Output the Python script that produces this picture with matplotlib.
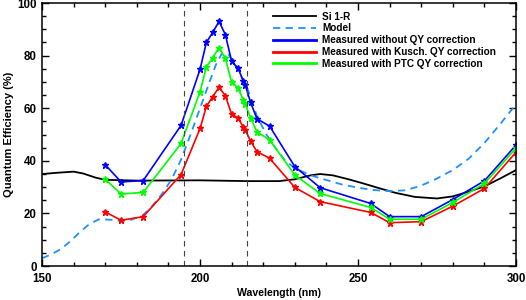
import matplotlib
matplotlib.use("Agg")
import matplotlib.pyplot as plt
from matplotlib.lines import Line2D
from matplotlib.ticker import MultipleLocator

plt.rcParams["font.family"] = ["Liberation Sans", "DejaVu Sans"]

# measured wavelengths (nm)
wl = [170, 175, 182, 194, 200, 202, 204, 206, 208, 210, 212, 213.7, 214.3,
      216, 218, 222, 230, 238, 254, 260, 270, 280, 290, 300]

qe_raw = [38.5, 32.0, 32.5, 53.5, 74.8, 85.0, 88.8, 93.0, 88.0, 77.8, 75.3, 70.3, 68.8,
          62.2, 56.0, 53.2, 37.8, 29.8, 23.8, 18.8, 18.8, 25.3, 32.4, 46.0]
qe_kusch = [20.6, 17.4, 18.8, 34.8, 52.3, 60.7, 64.4, 67.9, 64.8, 57.7, 56.4, 52.8, 51.8,
            47.5, 43.5, 41.0, 29.9, 24.5, 20.4, 16.5, 16.9, 22.8, 29.5, 43.3]
qe_ptc = [33.0, 27.4, 28.0, 46.6, 66.3, 75.7, 79.2, 83.0, 79.0, 69.8, 67.8, 63.1, 61.5,
          56.4, 51.0, 48.0, 34.6, 27.6, 22.3, 17.8, 17.8, 24.2, 31.4, 44.8]

# model curve
wl_model = [150, 153, 156, 159, 162, 165, 168, 172, 175, 178, 182, 185, 188, 191, 194,
            197, 200, 203, 205, 207, 209, 212, 215, 218, 221, 224, 227, 230, 235, 240,
            245, 250, 255, 260, 265, 270, 275, 280, 285, 290, 295, 300]
qe_model = [3.0, 4.5, 6.5, 9.5, 13.0, 16.0, 17.8, 17.6, 17.1, 17.5, 19.4, 23.0, 27.5, 33.0, 40.5,
            50.0, 60.0, 70.0, 76.5, 81.0, 80.5, 74.5, 67.5, 57.0, 50.0, 44.7, 40.0, 37.2, 34.5, 32.7,
            31.0, 29.8, 28.9, 28.5, 28.8, 30.6, 33.3, 36.5, 40.8, 46.8, 54.0, 61.5]

# Si 1-R
wl_si = [150, 155, 160, 163, 167, 170, 180, 200, 215, 225, 230, 235, 238, 242, 247,
         252, 257, 262, 268, 275, 280, 285, 290, 295, 300]
qe_si = [35.0, 35.5, 35.9, 35.2, 33.6, 32.8, 32.5, 32.6, 32.3, 32.3, 33.0, 34.5, 35.0, 34.5, 33.0,
         31.3, 29.5, 27.8, 26.3, 25.7, 26.5, 28.3, 30.3, 33.3, 36.5]

band_edges = [195, 215]

fig = plt.figure(figsize=(5.26, 3.0), dpi=100)
ax = fig.add_axes([0.080, 0.113, 0.901, 0.877])

ax.plot(wl_si, qe_si, color="black", lw=1.3)
ax.plot(wl_model, qe_model, color="#1e90ff", lw=1.3, ls=(0, (4, 3)))
ax.plot(wl, qe_raw, color="blue", lw=1.2, marker="*", ms=4.5)
ax.plot(wl, qe_kusch, color="red", lw=1.2, marker="*", ms=4.5)
ax.plot(wl, qe_ptc, color="#00ff00", lw=1.2, marker="*", ms=4.5)
for x in band_edges:
    ax.axvline(x, color="#444444", lw=0.8, ls=(0, (5, 4)))

ax.set_xlim(150, 300)
ax.set_ylim(0, 100)
ax.xaxis.set_major_locator(MultipleLocator(50))
ax.xaxis.set_minor_locator(MultipleLocator(10))
ax.yaxis.set_major_locator(MultipleLocator(20))
ax.yaxis.set_minor_locator(MultipleLocator(5))
ax.tick_params(which="both", direction="in", top=True, right=True, width=1)
ax.tick_params(which="major", length=5, labelsize=8.3)
ax.tick_params(which="minor", length=3)
ax.tick_params(axis="x", pad=5)
ax.tick_params(axis="y", pad=4)
for lab in ax.get_xticklabels() + ax.get_yticklabels():
    lab.set_fontweight("bold")
for s in ax.spines.values():
    s.set_linewidth(1.1)

ax.set_xlabel("Wavelength (nm)", fontsize=7.6, fontweight="bold", labelpad=2)
ax.set_ylabel("Quantum Efficiency (%)", fontsize=8.0, fontweight="bold")
ax.yaxis.set_label_coords(-0.060, 0.5)

handles = [
    Line2D([], [], color="black", lw=1.3),
    Line2D([], [], color="#1e90ff", lw=1.3, ls=(0, (4, 3))),
    Line2D([], [], color="blue", lw=2),
    Line2D([], [], color="red", lw=2),
    Line2D([], [], color="#00ff00", lw=2),
]
labels = ["Si 1-R", "Model", "Measured without QY correction",
          "Measured with Kusch. QY correction", "Measured with PTC QY correction"]
ax.legend(handles, labels, loc="upper left", bbox_to_anchor=(0.487, 0.967),
          frameon=False, handlelength=4.3, handletextpad=0.6,
          labelspacing=0.18, borderaxespad=0, borderpad=0,
          prop={"weight": "bold", "size": 7.2})

fig.savefig("out.png", dpi=100)
